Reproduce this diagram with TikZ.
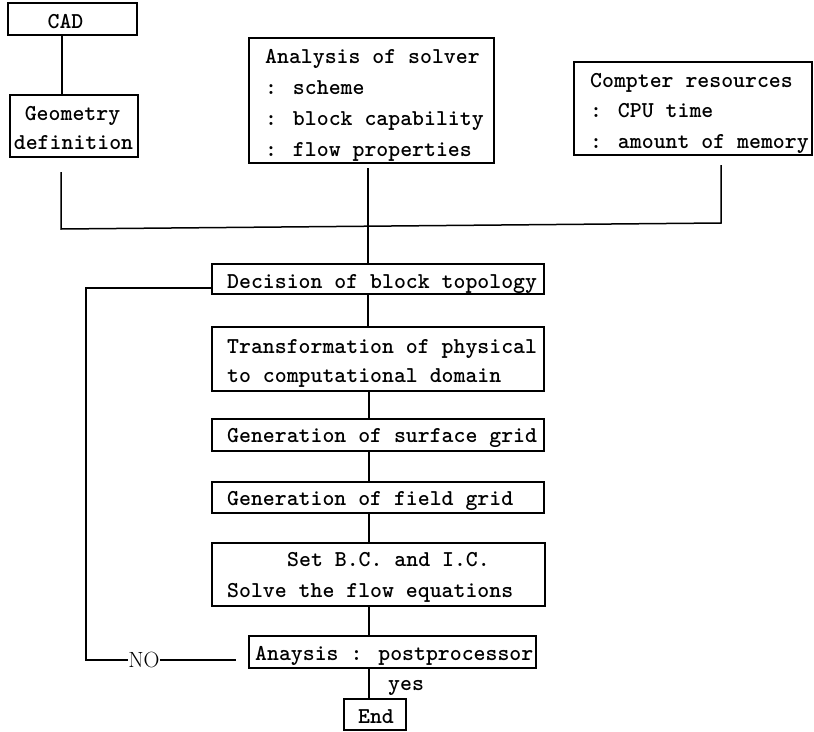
\documentclass[tikz,border=0pt]{standalone}
\usetikzlibrary{calc}
\begin{document}
\begin{tikzpicture}[x=1pt,y=-1pt,
  box/.style={draw, line width=1.5pt, inner sep=0pt, outer sep=0pt, anchor=north west},
  txt/.style={inner sep=0pt, anchor=base west, font=\ttfamily\bfseries\fontsize{22.7}{31}\selectfont},
  ctxt/.style={inner sep=0pt, anchor=base, font=\ttfamily\bfseries\fontsize{22.7}{31}\selectfont},
  conn/.style={line width=1.5pt}]
\useasboundingbox (0,0) rectangle (814,731);
% boxes
\node[box, minimum width=129pt, minimum height=32pt] (cad) at (8,3) {};
\node[box, minimum width=128pt, minimum height=62pt] (geo) at (10,95) {};
\node[box, minimum width=245pt, minimum height=125pt] (anal) at (249,38) {};
\node[box, minimum width=238pt, minimum height=93pt] (comp) at (574,62) {};
\node[box, minimum width=332pt, minimum height=30pt] (dec) at (212,264) {};
\node[box, minimum width=332pt, minimum height=64pt] (trans) at (212,327) {};
\node[box, minimum width=332pt, minimum height=32pt] (surf) at (212,419) {};
\node[box, minimum width=332pt, minimum height=31pt] (field) at (212,482) {};
\node[box, minimum width=333pt, minimum height=63pt] (setbc) at (212,543) {};
\node[box, minimum width=287pt, minimum height=32pt] (anay) at (249,636) {};
\node[box, minimum width=62pt, minimum height=31pt] (endb) at (344,699) {};
% texts
\node[ctxt] (cadt) at (65.5,28) {CAD};
\node[ctxt] (geot1) at (72.5,120) {Geometry};
\node[ctxt] (geot2) at (73.5,149) {definition};
\node[txt] (analt1) at (265,63) {Analysis of solver};
\node[txt] (analt2) at (265,94) {: scheme};
\node[txt] (analt3) at (265,125) {: block capability};
\node[txt] (analt4) at (265,156) {: flow properties};
\node[txt] (compt1) at (590,87) {Compter resources};
\node[txt] (compt2) at (590,117.5) {: CPU time};
\node[txt] (compt3) at (590,148) {: amount of memory};
\node[txt] (dect) at (227,288) {Decision of block topology};
\node[txt] (transt1) at (227,353) {Transformation of physical};
\node[txt] (transt2) at (227,382) {to computational domain};
\node[txt] (surft) at (227,442) {Generation of surface grid};
\node[txt] (fieldt) at (227,505) {Generation of field grid};
\node[txt] (setbct1) at (287,566) {Set B.C. and I.C.};
\node[txt] (setbct2) at (227,597) {Solve the flow equations};
\node[txt] (anayt) at (255,660) {Anaysis : postprocessor};
\node[txt] (yes) at (388,690) {yes};
\node[ctxt] (endt) at (376,723) {End};
\node[inner sep=0pt, font=\rmfamily\fontsize{22}{26}\selectfont] (no) at (144,660) {NO};
% coordinates
\coordinate (xl) at (62,0);
\coordinate (xc) at (369,0);
\coordinate (gl) at (61,172);
\coordinate (jl) at (61,229);
\coordinate (jr) at (721,223);
\coordinate (cr) at (721,165);
\coordinate (as) at (368,168);
\coordinate (lp) at (86,660);
\coordinate (nofree) at (236,660);
% connectors
\draw[conn] (cad.south -| xl) -- (geo.north -| xl);
\draw[conn] (gl) -- (jl) -- (jr) -- (cr);
\draw[conn] (as) -- (dec.north -| as);
\draw[conn] (dec.south -| as) -- (trans.north -| as);
\draw[conn] (trans.south -| xc) -- (surf.north -| xc);
\draw[conn] (surf.south -| xc) -- (field.north -| xc);
\draw[conn] (field.south -| xc) -- (setbc.north -| xc);
\draw[conn] (setbc.south -| xc) -- (anay.north -| xc);
\draw[conn] (anay.south -| xc) -- (endb.north -| xc);
\draw[conn] ($(dec.south west)+(0,-6)$) -| (lp) -- (no.west);
\draw[conn] (no.east) -- (nofree);
\end{tikzpicture}
\end{document}
